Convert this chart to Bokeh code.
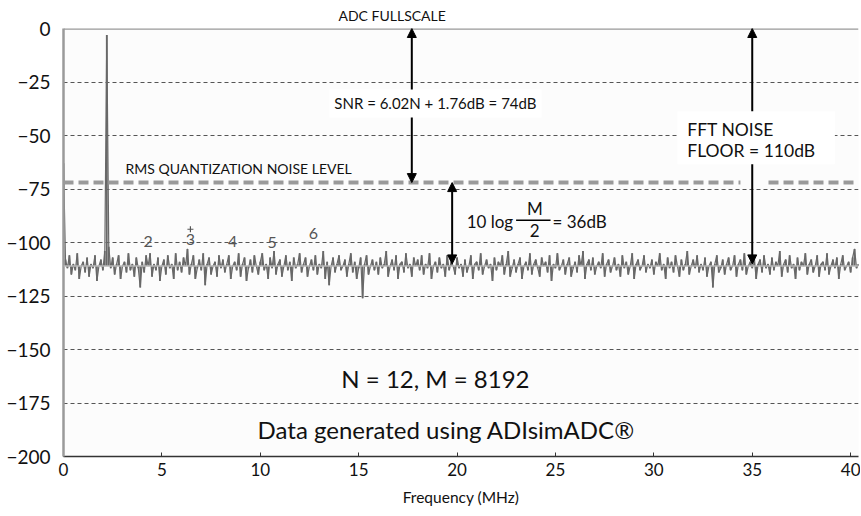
from bokeh.plotting import figure
from bokeh.models import (Label, Arrow, NormalHead, BoxAnnotation, Span,
                          FixedTicker, ColumnDataSource)
from bokeh.core.properties import value
from bokeh.embed import file_html
from bokeh.resources import INLINE

FONT = "Lato"

# ---------------- data ----------------
freq_step_mhz = 0.1
noise_db = [
    -63, -108, -112, -106, -115, -110, -113, -105, -117, -111, -109, -114, -107, -116, -110, -112, -106, -118, -111, -108,
    -113, -104, -3, -102, -112, -107, -115, -110, -106, -117, -111, -109, -114, -105, -113, -110, -116, -107, -112, -121,
    -109, -114, -106, -111, -105, -116, -110, -113, -107, -118, -111, -108, -115, -106, -112, -110, -117, -105, -113, -109,
    -114, -107, -111, -103, -115, -110, -106, -117, -112, -108, -113, -105, -120, -110, -107, -115, -111, -109, -116, -106,
    -112, -108, -114, -110, -106, -117, -111, -109, -113, -105, -116, -110, -107, -118, -112, -108, -114, -106, -111, -115,
    -109, -105, -113, -110, -117, -107, -112, -104, -115, -110, -108, -116, -111, -106, -113, -109, -118, -107, -112, -110,
    -105, -114, -110, -107, -116, -111, -108, -113, -106, -115, -110, -112, -104, -117, -109, -120, -111, -107, -114, -110,
    -106, -113, -111, -108, -116, -110, -105, -114, -109, -117, -112, -107, -126, -110, -106, -115, -111, -108, -113, -109,
    -115, -107, -112, -110, -104, -116, -111, -108, -113, -106, -117, -110, -109, -114, -105, -112, -110, -116, -107, -111,
    -108, -113, -106, -115, -110, -112, -105, -117, -111, -109, -114, -107, -112, -110, -116, -106, -113, -109, -111, -115,
    -107, -112, -110, -116, -108, -114, -111, -106, -117, -110, -109, -113, -105, -115, -111, -108, -112, -110, -118, -107,
    -113, -109, -111, -106, -115, -110, -104, -116, -112, -108, -114, -110, -107, -117, -111, -109, -113, -105, -115, -110,
    -108, -112, -116, -107, -111, -109, -114, -106, -118, -110, -112, -105, -113, -111, -108, -115, -110, -107, -116, -112,
    -109, -114, -106, -111, -104, -117, -110, -108, -113, -107, -115, -111, -109, -112, -105, -116, -110, -108, -114, -111,
    -107, -113, -110, -116, -106, -112, -109, -115, -111, -105, -117, -110, -108, -113, -111, -106, -114, -110, -112, -108,
    -115, -109, -111, -105, -113, -110, -117, -107, -112, -109, -114, -106, -111, -116, -108, -113, -110, -104, -115, -111,
    -108, -112, -106, -114, -110, -113, -107, -116, -111, -109, -121, -110, -106, -114, -112, -108, -115, -110, -107, -113,
    -111, -106, -116, -110, -108, -113, -105, -115, -111, -109, -112, -107, -117, -110, -108, -114, -106, -112, -110, -115,
    -107, -113, -109, -111, -104, -116, -110, -108, -114, -106, -112, -110, -117, -107, -113, -109, -111, -105, -115, -110,
    -108, -114, -111, -106, -116, -110, -109, -113, -105, -115, -111, -108, -112, -107, -117, -110, -106, -113, -111, -109,
    -114, -107, -103, -112, -110,
]
freq_mhz = [round(i * freq_step_mhz, 2) for i in range(len(noise_db))]

mean_floor_db = -111
rms_q_noise_db = -72
full_scale_db = 0
fft_floor_db = -110

y_ticks = [0, -25, -50, -75, -100, -125, -150, -175, -200]
y_tick_labels = ["0", "\u221225", "\u221250", "\u221275", "\u2212100",
                 "\u2212125", "\u2212150", "\u2212175", "\u2212200"]
x_ticks = [0, 5, 10, 15, 20, 25, 30, 35, 40]

harm_numbers = ["2", "3", "4", "5", "6"]
harm_freq = [4.3, 6.45, 8.6, 10.6, 12.7]
harm_label_db = [-99.3, -98.6, -99.3, -99.8, -96.0]

# ---------------- figure ----------------
p = figure(width=860, height=515, x_range=(0, 40.4), y_range=(-200, 0),
           output_backend="svg", toolbar_location=None,
           min_border_left=63, min_border_right=2,
           min_border_top=27, min_border_bottom=59)
p.background_fill_color = "#fcfcfc"
p.border_fill_color = "white"
p.outline_line_color = None

# title used for the "ADC FULLSCALE" caption above the frame
p.title.text = "ADC FULLSCALE"
p.title.align = "left"
p.title.offset = 275
p.title.text_font = FONT
p.title.text_font_style = "normal"
p.title.text_font_size = "14px"
p.title.text_color = "#111111"
p.title.standoff = 9

# grid
p.xgrid.visible = False
p.ygrid.ticker = FixedTicker(ticks=y_ticks[1:-1])
p.ygrid.grid_line_color = "#555555"
p.ygrid.grid_line_dash = "4 3"
p.ygrid.grid_line_width = 1

# y axis
p.yaxis.ticker = FixedTicker(ticks=y_ticks)
p.yaxis.major_label_overrides = {t: l for t, l in zip(y_ticks, y_tick_labels)}
p.yaxis.major_tick_in = 0
p.yaxis.major_tick_out = 0
p.yaxis.minor_tick_line_color = None
p.yaxis.axis_line_color = "#9a9a9a"
p.yaxis.axis_line_width = 2.5
p.yaxis.major_label_standoff = 13
p.yaxis.major_label_text_font = FONT
p.yaxis.major_label_text_font_size = "19px"
p.yaxis.major_label_text_color = "#111111"

# x axis
p.xaxis.ticker = FixedTicker(ticks=x_ticks)
p.xaxis.major_tick_in = 4
p.xaxis.major_tick_out = 0
p.xaxis.minor_tick_line_color = None
p.xaxis.axis_line_color = "#333333"
p.xaxis.axis_line_width = 1.5
p.xaxis.major_tick_line_color = "#333333"
p.xaxis.major_label_standoff = 6
p.xaxis.major_label_text_font = FONT
p.xaxis.major_label_text_font_size = "17px"
p.xaxis.major_label_text_color = "#111111"
p.xaxis.axis_label = "Frequency (MHz)"
p.xaxis.axis_label_text_font = FONT
p.xaxis.axis_label_text_font_style = "normal"
p.xaxis.axis_label_text_font_size = "15.5px"
p.xaxis.axis_label_standoff = 9
p.xaxis.axis_label_text_color = "#111111"

# top border (full scale)
p.add_layout(Span(location=full_scale_db, dimension="width",
                  line_color="#9a9a9a", line_width=2.5))

# spectrum
src = ColumnDataSource(data=dict(f=freq_mhz, db=noise_db,
                                 base=[mean_floor_db] * len(noise_db)))
p.segment(x0="f", y0="base", x1="f", y1="db", source=src,
          line_color="#686868", line_width=1.8)
p.line("f", "db", source=src, line_color="#686868", line_width=1.2)
p.add_layout(Span(location=mean_floor_db, dimension="width",
                  line_color="#b8b8b8", line_width=1.5))

# RMS quantization noise level
p.add_layout(Span(location=rms_q_noise_db, dimension="width",
                  line_color="#9a9a9a", line_width=4, line_dash="10 5"))
p.add_layout(BoxAnnotation(left=34.4, right=35.6, bottom=-73.8, top=-70.2,
                           fill_color="#fcfcfc", fill_alpha=1, line_color=None))

# harmonic labels
hsrc = ColumnDataSource(data=dict(f=harm_freq, db=harm_label_db, t=harm_numbers))
p.text("f", "db", text="t", source=hsrc, text_font=value(FONT),
       text_font_size="16px", text_color="#555555",
       text_align="center", text_baseline="middle")
p.scatter([harm_freq[1]], [harm_label_db[1] + 4.8], marker="cross",
          size=6, line_color="#555555", line_width=1.2)


def head():
    return NormalHead(size=9, fill_color="black", line_color="black")


# arrows
p.add_layout(Arrow(start=head(), end=head(), x_start=17.7, y_start=rms_q_noise_db,
                   x_end=17.7, y_end=full_scale_db, line_width=2, line_color="black"))
p.add_layout(Arrow(start=head(), end=head(), x_start=19.75, y_start=fft_floor_db,
                   x_end=19.75, y_end=rms_q_noise_db, line_width=2, line_color="black"))
p.add_layout(Arrow(start=head(), end=head(), x_start=35.0, y_start=fft_floor_db,
                   x_end=35.0, y_end=full_scale_db, line_width=2, line_color="black"))


# text annotations
def lab(x, y, text, size, align="left", color="#111111", **kw):
    lb = Label(x=x, y=y, text=text, text_font=FONT, text_font_size=size,
               text_align=align, text_baseline="middle", text_color=color, **kw)
    p.add_layout(lb)
    return lb


lab(18.9, -35.0, "SNR = 6.02N + 1.76dB = 74dB", "15px", align="center",
    background_fill_color="white", background_fill_alpha=1.0, padding=5)
lab(3.15, -65.5, "RMS QUANTIZATION NOISE LEVEL", "14px")

# 10 log M/2 = 36dB
lab(22.85, -90.0, "10 log", "17px", align="right")
lab(23.95, -84.0, "M", "17px", align="center")
lab(23.95, -94.4, "2", "17px", align="center")
p.add_layout(Arrow(start=None, end=None, x_start=23.0, y_start=-89.6,
                   x_end=24.75, y_end=-89.6, line_width=1.3, line_color="black"))
lab(24.85, -90.0, "= 36dB", "17px")

# FFT noise floor box
p.add_layout(BoxAnnotation(left=31.2, right=39.2, bottom=-63.4, top=-38.7,
                           fill_color="white", fill_alpha=1, line_color=None))
lab(31.7, -47.0, "FFT NOISE", "17.5px")
lab(31.7, -56.8, "FLOOR = 110dB", "17.5px")

lab(18.9, -163.6, "N = 12, M = 8192", "24px", align="center")
lab(19.45, -187.4, "Data generated using ADIsimADC\u00ae", "24px", align="center")

open("out.html", "w").write(file_html(p, INLINE))
